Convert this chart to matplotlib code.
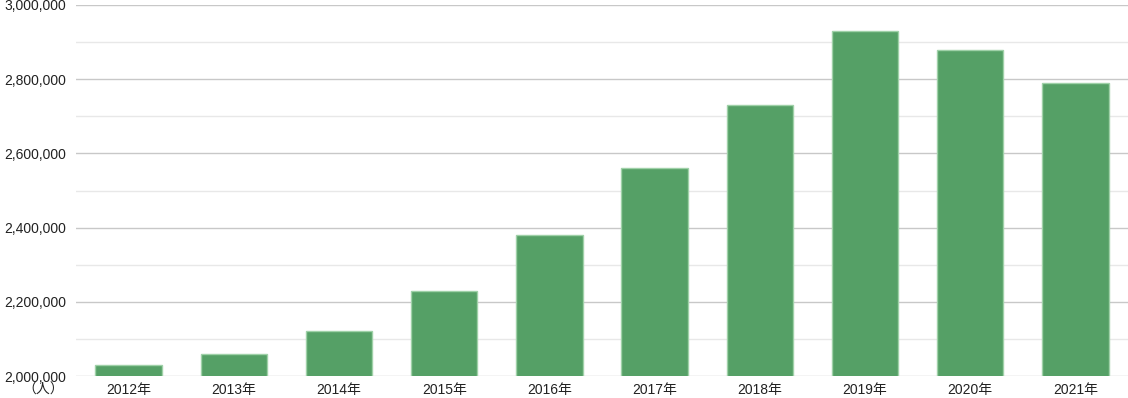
import matplotlib
matplotlib.use("Agg")
import matplotlib.pyplot as plt
from matplotlib.ticker import MultipleLocator, FuncFormatter

# Datos (personas por año)
years = ["2012年", "2013年", "2014年", "2015年", "2016年",
         "2017年", "2018年", "2019年", "2020年", "2021年"]
values = [2030000, 2060000, 2120000, 2230000, 2380000,
          2560000, 2730000, 2930000, 2880000, 2790000]

plt.rcParams["font.family"] = ["Liberation Sans", "Noto Sans CJK JP"]

fig = plt.figure(figsize=(11.28, 3.98), dpi=100)
ax = fig.add_axes([76 / 1128, 22 / 398, (1128 - 76) / 1128, (376 - 5) / 398])

ax.bar(range(len(years)), values, width=0.63, color="#55a066",
       edgecolor="#9fd1a8", linewidth=1.0, zorder=3)

ax.set_ylim(2000000, 3000000)
ax.set_xlim(-0.5, len(years) - 0.5)
ax.yaxis.set_major_locator(MultipleLocator(200000))
ax.yaxis.set_minor_locator(MultipleLocator(100000))
ax.yaxis.set_major_formatter(FuncFormatter(lambda v, p: f"{int(v):,}"))
ax.grid(axis="y", which="major", color="#c8c8c8", linewidth=1.0, zorder=0)
ax.grid(axis="y", which="minor", color="#e8e8e8", linewidth=1.0, zorder=0)

ax.set_xticks(range(len(years)))
ax.set_xticklabels(years)
ax.tick_params(axis="both", which="both", length=0, labelsize=10, colors="#222222")
ax.tick_params(axis="y", pad=7)
ax.tick_params(axis="x", pad=5)
for s in ax.spines.values():
    s.set_visible(False)

fig.text(64 / 1128, 1 - 390 / 398, "（人）", ha="right", va="center",
         fontsize=10, color="#222222")

fig.savefig("out.png", dpi=100)
